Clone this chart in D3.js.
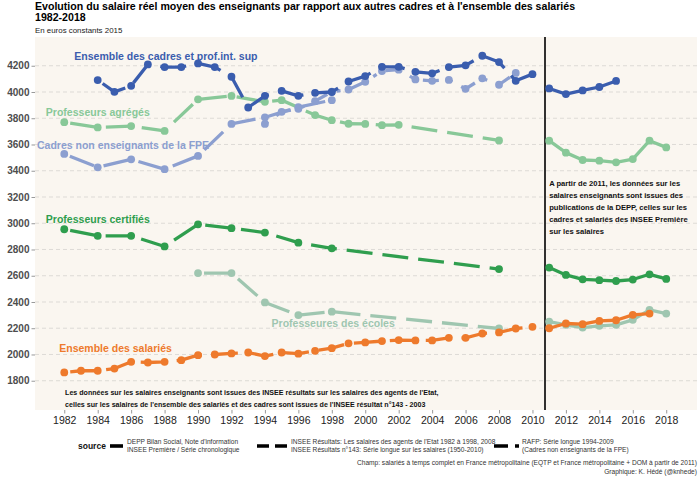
<!DOCTYPE html>
<html><head><meta charset="utf-8">
<script src="https://cdn.jsdelivr.net/npm/d3@7"></script>
<style>body{margin:0;background:#fff}text{font-family:"Liberation Sans",Arial,sans-serif}</style>
</head><body>
<svg id="chart" width="700" height="479"></svg>
<script>
// ---------- DATA ----------
const xTickValues = d3.range(1982, 2019, 2);
const yTickValues = d3.range(1800, 4201, 200);

// INSEE Résultats (agents de l'Etat) - teachers
const yearsCertifiesInsee = [1982,1984,1986,1988,1990,1992,1994,1996,1998,2008];
const certifiesInsee      = [2954,2904,2904,2823,2992,2962,2929,2852,2809,2651];
const yearsAgregesInsee   = [1982,1984,1986,1988,1990,1992,1994,1995,1997,1998,1999,2000,2001,2002,2008];
const agregesInsee        = [3770,3730,3740,3703,3944,3970,3925,3938,3824,3785,3758,3757,3747,3750,3631];
const yearsEcolesInsee    = [1990,1992,1994,1996,1998,2008];
const ecolesInsee         = [2620,2620,2397,2300,2326,2198];
const yearsCadresFpeInsee = [1982,1984,1986,1988,1990,1992,1994,1996,1998];
const cadresFpeInsee      = [3528,3426,3487,3412,3513,3757,3807,3885,3938];

// RAFP série longue - cadres non enseignants FPE
const yearsCadresFpeRafp  = [1994,1995,1996,1997,1998,1999,2000,2001,2002,2003,2004,2005,2006,2007,2008,2009];
const cadresFpeRafp       = [3757,3849,3872,3930,4002,4019,4078,4160,4170,4096,4085,4092,4024,4104,4055,4145];

// INSEE Résultats n°143 - série longue
const yearsCadresInsee    = d3.range(1984, 2011);
const cadresInsee         = [4091,4001,4047,4210,4190,4190,4218,4190,4116,3882,3971,4009,3971,3994,4000,4080,4121,4192,4192,4154,4142,4190,4203,4276,4228,4085,4136];
const yearsSalariesInsee  = d3.range(1982, 2011);
const salariesInsee       = [1863,1876,1876,1893,1944,1939,1944,1957,1995,2000,2008,2015,1988,2015,2006,2028,2048,2085,2092,2102,2110,2107,2107,2127,2127,2160,2168,2198,2211];

// DEPP / INSEE Première (2011+)
const yearsDepp           = d3.range(2011, 2019);
const certifiesDepp       = [2662,2606,2573,2566,2560,2571,2611,2576];
const agregesDepp         = [3629,3538,3482,3477,3464,3489,3629,3578];
const ecolesDepp          = [2251,2226,2205,2218,2226,2264,2340,2312];
const yearsSalariesIP     = d3.range(2011, 2018);
const salariesIP          = [2200,2236,2231,2256,2261,2302,2312];
const yearsCadresIP       = d3.range(2011, 2016);
const cadresIP            = [4027,3984,4012,4038,4084];

const sourceBreakYear = 2010.75;

// ---------- STYLE ----------
const C = {
  cadres: "#3a5dae", fpe: "#8c9fd0", agreges: "#88c898",
  certifies: "#2f9e4e", ecoles: "#9fc6b0", salaries: "#ee7a2c"
};
const DASH = { solid: null, longdash: "26,10", dotdash: "4,10,16,10" };

const groups = [
  {years: yearsEcolesInsee, vals: ecolesInsee, color: C.ecoles, lt: "longdash", off: 30},
  {years: yearsDepp, vals: ecolesDepp, color: C.ecoles, lt: "solid"},
  {years: yearsAgregesInsee, vals: agregesInsee, color: C.agreges, lt: "longdash", off: 30},
  {years: yearsDepp, vals: agregesDepp, color: C.agreges, lt: "solid"},
  {years: yearsCertifiesInsee, vals: certifiesInsee, color: C.certifies, lt: "longdash", off: 30},
  {years: yearsDepp, vals: certifiesDepp, color: C.certifies, lt: "solid"},
  {years: yearsCadresFpeInsee, vals: cadresFpeInsee, color: C.fpe, lt: "longdash", off: 30},
  {years: yearsCadresFpeRafp, vals: cadresFpeRafp, color: C.fpe, lt: "dotdash", off: 0},
  {years: yearsCadresInsee, vals: cadresInsee, color: C.cadres, lt: "longdash", off: 30},
  {years: yearsCadresIP, vals: cadresIP, color: C.cadres, lt: "solid"},
  {years: yearsSalariesInsee, vals: salariesInsee, color: C.salaries, lt: "longdash", off: 30},
  {years: yearsSalariesIP, vals: salariesIP, color: C.salaries, lt: "solid"}
];

const labels = [
  {t: "Ensemble des cadres et prof.int. sup", year: 1982.6, v: 4274, color: C.cadres},
  {t: "Professeurs agrégés", year: 1980.9, v: 3847, color: C.agreges},
  {t: "Cadres non enseignants de la FPE", year: 1980.37, v: 3595, color: C.fpe},
  {t: "Professeurs certifiés", year: 1980.9, v: 3032, color: C.certifies},
  {t: "Professeures des écoles", year: 1994.4, v: 2238, color: C.ecoles},
  {t: "Ensemble des salariés", year: 1981.7, v: 2047, color: C.salaries}
];

// ---------- CHART ----------
const svg = d3.select("#chart");
const P = {l: 35, r: 697, t: 37, b: 410};
const x = d3.scaleLinear().domain([1980.25, 2019.84]).range([P.l, P.r]);
const y = d3.scaleLinear().domain([1577, 4419]).range([P.b, P.t]);

svg.append("rect").attr("x", P.l).attr("y", P.t).attr("width", P.r - P.l).attr("height", P.b - P.t).attr("fill", "#faf6f0");

// gridlines
svg.append("g").selectAll("line").data(yTickValues).join("line")
  .attr("x1", P.l).attr("x2", P.r).attr("y1", d => y(d)).attr("y2", d => y(d))
  .attr("stroke", "#d6d3cf").attr("stroke-width", 0.8).attr("stroke-dasharray", "4,3");

// axes
const gy = svg.append("g").attr("transform", `translate(${P.l},0)`)
  .call(d3.axisLeft(y).tickValues(yTickValues).tickSize(3.5).tickPadding(2).tickFormat(d3.format("d")));
gy.select(".domain").remove();
gy.selectAll("line").attr("stroke", "#999");
gy.selectAll("text").attr("font-size", 10).attr("font-weight", "bold").attr("fill", "#4d4d4d").attr("font-family", "Liberation Sans, Arial, sans-serif");

const gx = svg.append("g").attr("transform", `translate(0,${P.b})`)
  .call(d3.axisBottom(x).tickValues(xTickValues).tickSize(3.5).tickPadding(3).tickFormat(d3.format("d")));
gx.select(".domain").remove();
gx.selectAll("line").attr("stroke", "#999");
gx.selectAll("text").attr("font-size", 10.5).attr("fill", "#222").attr("font-family", "Liberation Sans, Arial, sans-serif");

// vertical break line
svg.append("line").attr("x1", x(sourceBreakYear)).attr("x2", x(sourceBreakYear))
  .attr("y1", P.t).attr("y2", P.b).attr("stroke", "#000").attr("stroke-width", 1.6);

// series
const line = d3.line().x(d => x(d[0])).y(d => y(d[1]));
groups.forEach(g => {
  const pts = g.years.map((yr, i) => [yr, g.vals[i]]);
  const p = svg.append("path").datum(pts).attr("d", line)
    .attr("fill", "none").attr("stroke", g.color).attr("stroke-width", 3.3)
    .attr("stroke-linejoin", "round");
  if (DASH[g.lt]) p.attr("stroke-dasharray", DASH[g.lt]).attr("stroke-dashoffset", g.off || 0);
  svg.append("g").selectAll("circle").data(pts).join("circle")
    .attr("cx", d => x(d[0])).attr("cy", d => y(d[1])).attr("r", 3.9).attr("fill", g.color);
});

// series labels
svg.append("g").selectAll("text").data(labels).join("text")
  .attr("x", d => x(d.year)).attr("y", d => y(d.v)).attr("dy", "0.36em")
  .attr("font-size", 10.5).attr("font-weight", "bold").attr("fill", d => d.color).text(d => d.t);

// annotations
const noteRight = ["A partir de 2011, les données sur les", "salaires enseignants sont issues des",
  "publications de la DEPP, celles sur les", "cadres et salariés des INSEE Première", "sur les salaires"];
svg.append("g").selectAll("text").data(noteRight).join("text")
  .attr("x", x(2011.0)).attr("y", (d, i) => y(3302) + i * 11.9).attr("dy", "0.35em")
  .attr("font-size", 7.6).attr("font-weight", "bold").attr("fill", "#111").text(d => d);

const noteBottom = ["Les données sur les salaires enseignants sont issues des INSEE résultats sur les salaires des agents de l'Etat,",
  "celles sur les salaires de l'ensemble des salariés et des cadres sont issues de l'INSEE résultat n°143 - 2003"];
svg.append("g").selectAll("text").data(noteBottom).join("text")
  .attr("x", x(1982.05)).attr("y", (d, i) => y(1709) + i * 11.8).attr("dy", "0.35em")
  .attr("font-size", 7.1).attr("font-weight", "bold").attr("fill", "#111").text(d => d);

// title
svg.append("text").attr("x", 35).attr("y", 10).attr("font-size", 10.6).attr("font-weight", "bold").attr("fill", "#000")
  .text("Evolution du salaire réel moyen des enseignants par rapport aux autres cadres et à l'ensemble des salariés");
svg.append("text").attr("x", 35).attr("y", 20.5).attr("font-size", 10.6).attr("font-weight", "bold").attr("fill", "#000").text("1982-2018");
svg.append("text").attr("x", 35).attr("y", 33).attr("font-size", 7.9).attr("fill", "#222").text("En euros constants 2015");

// legend
const lg = svg.append("g").attr("font-size", 6.6).attr("fill", "#333");
lg.append("text").attr("x", 78).attr("y", 446).attr("dy", "0.35em").attr("font-size", 8.5).attr("font-weight", "bold").attr("fill", "#111").text("source");
const legendItems = [
  {lt: "solid", kx: 110, kw: 13, tx: 127, lines: ["DEPP Bilan Social, Note d'information", "INSEE Première / Série chronologique"]},
  {lt: "longdash", kx: 257, kw: 31, tx: 291, lines: ["INSEE Résultats: Les salaires des agents de l'Etat 1982 à 1998, 2008", "INSEE Résultats n°143: Série longue sur les salaires (1950-2010)"]},
  {lt: "dotdash", kx: 494, kw: 26, tx: 522, lines: ["RAFP: Série longue 1994-2009", "(Cadres non enseignants de la FPE)"]}
];
const keyDash = {solid: null, longdash: "12,6", dotdash: "14,7,4,7"};
legendItems.forEach(it => {
  const l = lg.append("line").attr("x1", it.kx).attr("x2", it.kx + it.kw).attr("y1", 446).attr("y2", 446)
    .attr("stroke", "#000").attr("stroke-width", 3.6);
  if (keyDash[it.lt]) l.attr("stroke-dasharray", keyDash[it.lt]);
  it.lines.forEach((t, i) => lg.append("text").attr("x", it.tx).attr("y", 441.5 + i * 8.4).attr("dy", "0.35em").text(t));
});

// caption
svg.append("text").attr("x", 697).attr("y", 465).attr("text-anchor", "end").attr("font-size", 6.6).attr("fill", "#333")
  .text("Champ: salariés à temps complet en France métropolitaine (EQTP et France métropolitaine + DOM à partir de 2011)");
svg.append("text").attr("x", 697).attr("y", 474).attr("text-anchor", "end").attr("font-size", 6.6).attr("fill", "#333")
  .text("Graphique: K. Hédé (@knhede)");
</script>
</body></html>
